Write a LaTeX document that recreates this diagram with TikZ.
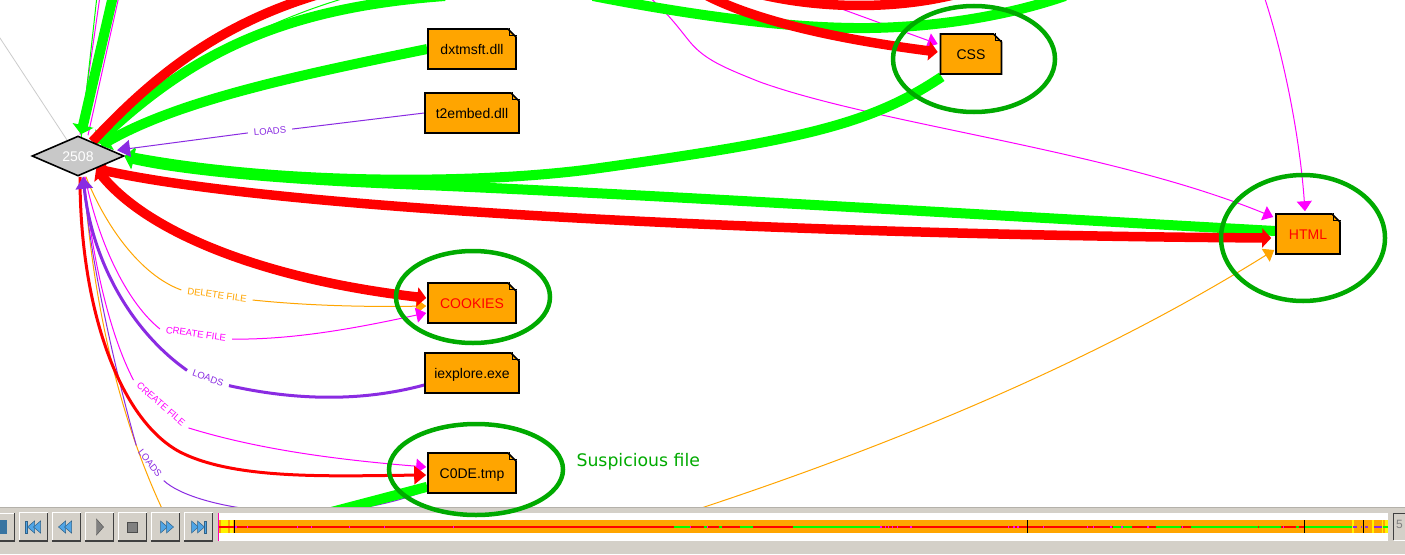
\documentclass[tikz,border=0pt]{standalone}
\usepackage{fontspec}
\setmainfont{Liberation Sans}
\newfontfamily\notefont{DejaVu Sans}
\usepackage{tikz}
\usetikzlibrary{arrows.meta,backgrounds,shapes.geometric,shapes.misc}
\definecolor{filenote}{RGB}{255,165,0}
\definecolor{procgray}{RGB}{200,200,200}
\definecolor{markgreen}{RGB}{0,170,0}
\definecolor{edgegreen}{RGB}{0,255,0}
\definecolor{edgered}{RGB}{255,0,0}
\definecolor{edgemag}{RGB}{255,0,255}
\definecolor{edgepurple}{RGB}{138,43,226}
\definecolor{barbase}{RGB}{212,208,200}
\definecolor{bardark}{RGB}{64,64,64}
\definecolor{iconblue}{RGB}{80,165,230}
\tikzset{
  filebox/.style={chamfered rectangle,chamfered rectangle corners=north east,
    chamfered rectangle xsep=4pt,chamfered rectangle ysep=4pt,draw=black,
    line width=1.6pt,fill=filenote,inner sep=0pt,text height=11pt,text depth=0pt,
    font=\fontsize{14}{16}\selectfont},
  procnode/.style={diamond,aspect=2.3,draw=black,line width=1.6pt,fill=procgray,
    text=white,inner sep=0pt,minimum width=92pt,minimum height=40pt,
    text height=11pt,text depth=0pt,font=\fontsize{14}{16}\selectfont},
  markring/.style={ellipse,draw=markgreen,line width=4.5pt,inner sep=0pt},
  edgelabel/.style={inner xsep=6pt,inner ysep=0pt,font=\fontsize{9.5}{11}\selectfont},
  thickgreen/.style={draw=edgegreen,line width=10pt,-{Triangle[length=9pt,width=21pt]}},
  thickred/.style={draw=edgered,line width=9.5pt,{Triangle[length=9pt,width=19pt]}-{Triangle[length=9pt,width=19pt]}},
  thinedge/.style={line width=1pt,-{Triangle[length=10pt,width=15pt]}},
  midedge/.style={line width=3pt,-{Triangle[length=12pt,width=17pt]}},
  toolbtn/.style={rectangle,fill=barbase,inner sep=0pt,minimum width=28pt,minimum height=28pt},
  iconfill/.style={fill=iconblue,draw=iconblue!60!black,line width=.5pt},
}
\begin{document}
\begin{tikzpicture}[x=1pt,y=-1pt]
  \useasboundingbox (0,0) rectangle (1405,554);

  % files and the process
  \node[procnode] (proc) at (78,156) {2508};
  \node[filebox,minimum width=88pt,minimum height=40pt] (dxtmsft) at (472,49) {dxtmsft.dll};
  \node[filebox,minimum width=94pt,minimum height=40pt] (t2embed) at (472,113) {t2embed.dll};
  \node[filebox,minimum width=88pt,minimum height=40pt,text=edgered] (cookies) at (472,303) {COOKIES};
  \node[filebox,minimum width=94pt,minimum height=40pt] (iexplore) at (472,373) {iexplore.exe};
  \node[filebox,minimum width=88pt,minimum height=40pt] (codetmp) at (472,473) {C0DE.tmp};
  \node[filebox,minimum width=61pt,minimum height=40pt] (css) at (971,54) {CSS};
  \node[filebox,minimum width=64pt,minimum height=40pt,text=edgered] (html) at (1308,234) {HTML};
  \foreach \nm in {dxtmsft,t2embed,cookies,iexplore,codetmp,css,html}
    \draw[line width=1pt] (\nm.east |- \nm.north) ++(-7,0) -- ++(0,7) -- ++(7,0);

  % edge labels
  \node[edgelabel,text=edgepurple,rotate=5] (lbltwo) at (270,131) {LOADS};
  \node[edgelabel,text=filenote,rotate=-8] (lbldel) at (217,295) {DELETE FILE};
  \node[edgelabel,text=edgemag,rotate=-8] (lblcrone) at (196,334) {CREATE FILE};
  \node[edgelabel,text=edgepurple,rotate=-20] (lblie) at (208,378) {LOADS};
  \node[edgelabel,text=edgemag,rotate=-41] (lblcrtwo) at (161,404) {CREATE FILE};
  \node[edgelabel,text=edgepurple,rotate=-52] (lblcode) at (150,463) {LOADS};

  % ends that leave the view
  \coordinate (topthick) at (113,-4);
  \coordinate (topmag) at (119,-4);
  \coordinate (topthin) at (97,-4);
  \coordinate (topmagb) at (100,-4);
  \coordinate (topred) at (320,-6);
  \coordinate (topgreen) at (445,-4);
  \coordinate (topgreenb) at (352,-4);
  \coordinate (graytop) at (-2,35);
  \coordinate (htmlmag) at (648,-4);
  \coordinate (cssmag) at (806,-4);
  \coordinate (htmltop) at (1264,-4);
  \coordinate (uleft) at (593,-4);
  \coordinate (uright) at (1065,-4);
  \coordinate (redcssin) at (700,-8);
  \coordinate (redua) at (750,-8);
  \coordinate (redub) at (965,-8);
  \coordinate (orlow) at (165,515);
  \coordinate (orhtml) at (680,515);
  \coordinate (grcode) at (320,515);

  \begin{scope}[on background layer]
    \fill[white] (0,0) rectangle (1405,554);
    \clip (0,0) rectangle (1405,508);
    \draw[gray!40,line width=.8pt] (graytop) -- ([xshift=-11pt,yshift=16pt]proc.center);

    % thin edges
    \draw[thinedge,draw=filenote,-] (orlow) .. controls (110,400) and (90,270) .. ([xshift=6pt]proc.south);
    \draw[thinedge,draw=filenote,-] ([xshift=8pt]proc.south) .. controls (105,225) and (140,275) .. (lbldel.west);
    \draw[thinedge,draw=filenote] (lbldel.east) .. controls (310,306) and (370,307) .. ([xshift=-1pt,yshift=-3pt]cookies.west);
    \draw[thinedge,draw=filenote] (orhtml) .. controls (880,450) and (1090,365) .. ([xshift=-1pt,yshift=-16pt]html.west);
    \draw[thinedge,draw=edgemag,-] ([xshift=7pt]proc.south) .. controls (100,250) and (130,305) .. (lblcrone.west);
    \draw[thinedge,draw=edgemag] (lblcrone.east) .. controls (300,340) and (370,325) .. ([xshift=-1pt,yshift=-10pt]cookies.west);
    \draw[thinedge,draw=edgemag,-] ([xshift=6pt]proc.south) .. controls (92,260) and (110,335) .. (lblcrtwo.west);
    \draw[thinedge,draw=edgemag] (lblcrtwo.east) .. controls (260,450) and (340,460) .. ([xshift=-1pt,yshift=6pt]codetmp.west);
    \draw[thinedge,draw=edgemag,-] (topmag) -- ([xshift=10pt]proc.north);
    \draw[thinedge,draw=edgemag,-] (topmagb) -- ([xshift=2pt]proc.north);
    \draw[thinedge,draw=edgemag] (cssmag) -- ([xshift=-2pt,yshift=10pt]css.west);
    \draw[thinedge,draw=edgemag] (htmlmag) .. controls (670,15) and (680,30) .. (690,42)
      .. controls (705,60) and (725,68) .. (760,82)
      .. controls (880,125) and (1110,150) .. ([xshift=-2pt,yshift=17pt]html.west);
    \draw[thinedge,draw=edgemag] (htmltop) .. controls (1285,60) and (1300,140) .. ([xshift=-3pt,yshift=2pt]html.north);
    \draw[thinedge,draw=edgepurple,-] ([xshift=5pt]proc.south) .. controls (90,260) and (115,370) .. (lblcode.west);
    \draw[thinedge,draw=edgepurple,-] (lblcode.east) .. controls (195,510) and (330,530) .. ([yshift=-17pt]codetmp.west);
    \draw[thinedge,draw=edgegreen,-] (topthin) -- ([xshift=3pt,yshift=-4pt]proc.north);
    \draw[thinedge,draw=edgegreen,-] (topgreenb) .. controls (250,25) and (170,75) .. (proc.33);

    % green edges
    \draw[thickgreen] (topthick) -- ([xshift=3pt,yshift=1pt]proc.north);
    \draw[thickgreen] (topgreen) .. controls (280,8) and (190,55) .. (proc.35);
    \draw[thickgreen] (dxtmsft.west) .. controls (300,75) and (180,100) .. (proc.25);
    \draw[thickgreen,-] (uleft) .. controls (690,15) and (790,29) .. (870,28)
      .. controls (940,27) and (1010,15) .. (uright);
    \draw[thickgreen] ([xshift=2pt,yshift=-2pt]css.south west) .. controls (870,125) and (800,140) .. (600,168)
      .. controls (480,185) and (280,185) .. (proc.east);
    \draw[thickgreen] ([yshift=3pt]html.west) .. controls (900,210) and (600,192) .. (400,184)
      .. controls (300,180) and (190,172) .. ([yshift=-1pt]proc.east);
    \draw[thickgreen,-] ([yshift=7pt]codetmp.south west) -- (grcode);

    % red and purple edges
    \draw[thickred,-] (topred) .. controls (215,25) and (150,80) .. (proc.45);
    \draw[thickred] (proc.-35) .. controls (280,210) and (800,235) .. ([xshift=-4pt,yshift=-4pt]html.west);
    \draw[thickred] (proc.-35) .. controls (150,235) and (270,280) .. ([xshift=-1pt,yshift=5pt]cookies.west);
    \draw[thickred,-{Triangle[length=9pt,width=19pt]}] (redcssin) .. controls (760,25) and (860,42) .. ([xshift=-2pt,yshift=2pt]css.west);
    \draw[thickred,-] (redua) .. controls (820,10) and (900,10) .. (redub);
    \draw[midedge,draw=edgered,-{Triangle[length=12pt,width=18pt]}] ([xshift=2pt]proc.south) .. controls (80,310) and (120,420) .. (180,452)
      .. controls (235,480) and (330,476) .. ([xshift=-1pt,yshift=-2pt]codetmp.west);
    \draw[midedge,draw=edgepurple] (lblie.west) .. controls (130,330) and (92,260) .. ([xshift=5pt]proc.south);
    \draw[midedge,draw=edgepurple,-] ([yshift=-12pt]iexplore.west) .. controls (350,405) and (280,397) .. (lblie.east);
    \draw[thinedge,draw=edgepurple,-] (t2embed.west) -- (lbltwo.east);
    \draw[thinedge,draw=edgepurple,-{Triangle[length=13pt,width=17pt]}] (lbltwo.west) -- ([xshift=12pt,yshift=-3pt]proc.18);
  \end{scope}

  % player bar
  \fill[barbase] (0,507) rectangle (1405,554);
  \draw[barbase!85!black,line width=1pt] (0,507) -- (1405,507);
  \fill[barbase] (0,513) rectangle (15,541);
  \draw[white,line width=1pt] (0,513.5) -- (14.5,513.5);
  \draw[bardark,line width=1.5pt] (14.5,513) -- (14.5,541) -- (0,541);
  \fill[iconblue!70!black] (0,520) rectangle (7,534);
  \foreach \i/\cx in {1/33.5,2/66.5,3/99.5,4/132.5,5/165.5,6/198.5} {
    \node[toolbtn] (btn\i) at (\cx,527) {};
    \draw[white,line width=1pt] (btn\i.south west) -- (btn\i.north west) -- (btn\i.north east);
    \draw[bardark,line width=1.5pt] (btn\i.north east) -- (btn\i.south east) -- (btn\i.south west);
  }
  \draw[iconfill] (btn1) ++(-6,-6) -- ++(0,12) -- ++(-2,0) -- ++(0,-12) -- cycle;
  \foreach \dx in {0,6} {
    \draw[iconfill] (btn1) ++(\dx-6,0) -- ++(7,-6) -- ++(0,12) -- cycle;
    \draw[iconfill] (btn2) ++(\dx-8,0) -- ++(7,-6) -- ++(0,12) -- cycle;
    \draw[iconfill] (btn5) ++(\dx-5,-6) -- ++(7,6) -- ++(-7,6) -- cycle;
    \draw[iconfill] (btn6) ++(\dx-7,-6) -- ++(7,6) -- ++(-7,6) -- cycle;
  }
  \draw[iconfill] (btn6) ++(6,-6) -- ++(0,12) -- ++(2,0) -- ++(0,-12) -- cycle;
  \fill[gray,draw=gray!60!black] (btn3) ++(-3,-8) -- ++(7,8) -- ++(-7,8) -- cycle;
  \fill[gray,draw=gray!60!black] (btn4) ++(-5,-5) rectangle ++(10,10);

  % timeline
  \fill[white] (219,513) rectangle (1388,541);
  \fill[filenote] (218,520) rectangle (1388,533);
  \foreach \a/\b in {221/228,230/233,1352/1354,1372/1374,1382/1383,1385/1388}
    \fill[yellow] (\a,520) rectangle (\b,533);
  \fill[edgered] (219,526) rectangle (1352,528);
  \foreach \a/\b in {674/690,704/707,719/722,740/753,793/880,1113/1121,1123/1132,1156/1181,1191/1258,1259/1281,1296/1299,1305/1352,1383/1388}
    \fill[edgegreen] (\a,526) rectangle (\b,528);
  \foreach \a/\b in {235/237,247/248,297/298,311/312,349/350,384/385,453/454,690/691,707/708,880/882,885/886,888/889,892/893,897/898,910/912,1008/1009,1013/1015,1017/1019,1043/1044,1087/1088,1093/1094,1110/1112,1121/1123,1147/1149,1182/1183,1283/1284}
    \fill[edgemag] (\a,526) rectangle (\b,528);
  \foreach \a/\b in {1353/1357,1361/1362,1365/1368,1374/1382}
    \fill[edgepurple] (\a,526) rectangle (\b,528);
  \foreach \a in {234,1027,1304,1363}
    \fill[black] (\a-.5,520) rectangle (\a+.5,533);
  \draw[edgemag!70!red,line width=1pt] (218.5,513) -- (218.5,541);

  % frame counter
  \draw[bardark,line width=1pt] (1405,513.5) -- (1393.5,513.5) -- (1393.5,540);
  \draw[white,line width=1pt] (1394,540.5) -- (1405,540.5);
  \node[text=gray,anchor=west,inner sep=0pt,font=\fontsize{12}{14}\selectfont] (framecount) at (1396,524) {5};

  % marked files
  \node[markring,minimum width=154pt,minimum height=92pt] (ringcookies) at (473,297) {};
  \node[markring,minimum width=162pt,minimum height=106pt] (ringcss) at (974,59) {};
  \node[markring,minimum width=164pt,minimum height=126pt] (ringhtml) at (1303,238) {};
  \node[markring,minimum width=174pt,minimum height=91pt] (ringcode) at (476,469.5) {};
  \node[anchor=west,text=markgreen,font=\notefont\fontsize{17.3}{20}\selectfont] (susplabel) at (573,462) {Suspicious file};
\end{tikzpicture}
\end{document}
